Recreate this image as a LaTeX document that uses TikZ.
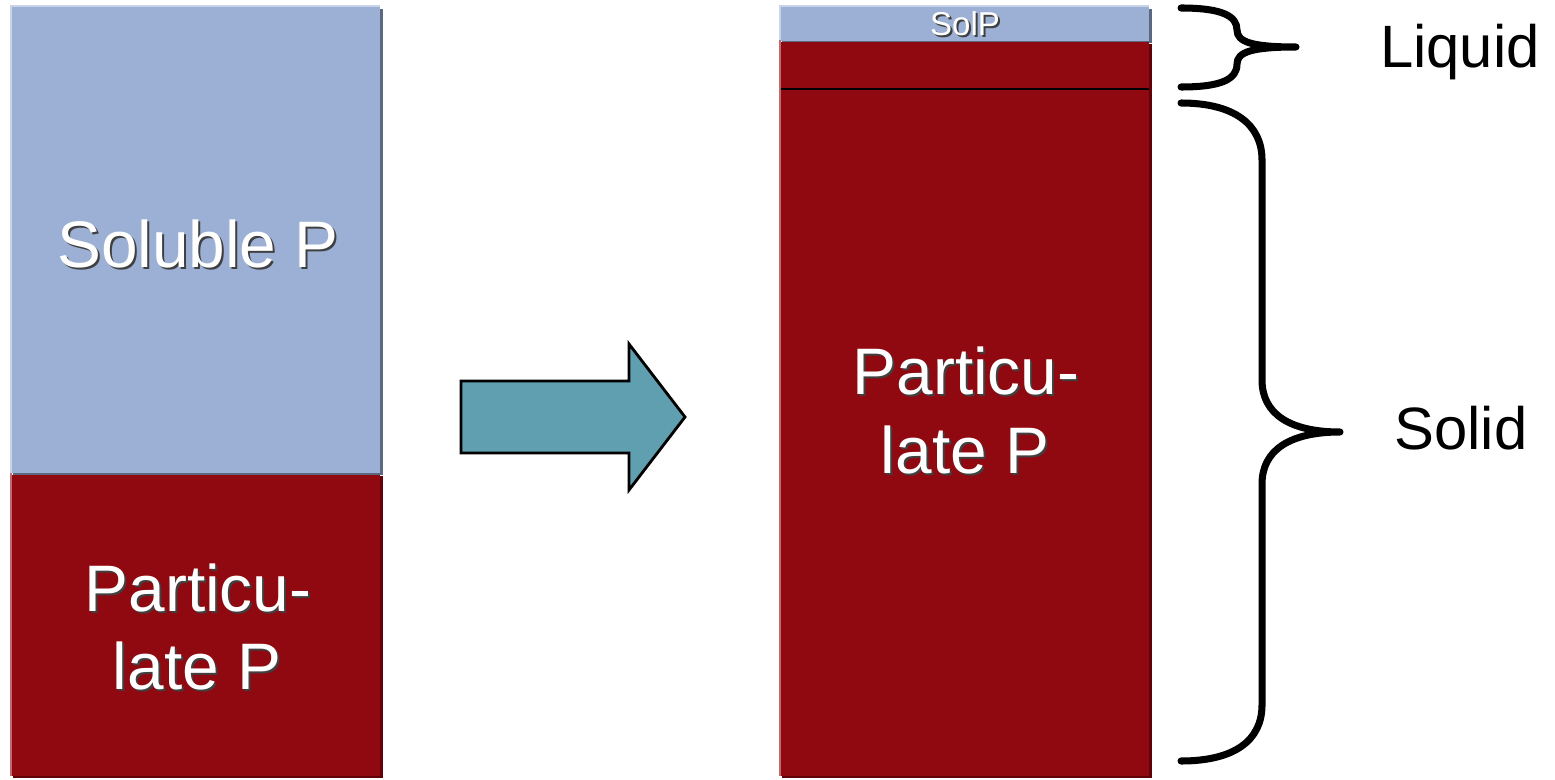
\documentclass[tikz,border=0pt]{standalone}
\usepackage{fontspec}
\setmainfont{Liberation Sans}
\definecolor{solblue}{RGB}{155,176,212}
\definecolor{solbluelt}{RGB}{200,212,232}
\definecolor{solbluedk}{RGB}{92,104,128}
\definecolor{partred}{RGB}{144,8,16}
\definecolor{partredlt}{RGB}{196,104,110}
\definecolor{partreddk}{RGB}{96,0,8}
\definecolor{arrteal}{RGB}{96,159,176}
\tikzset{
  big/.style={font=\fontsize{18.7}{22}\selectfont, inner sep=0pt, anchor=base},
  small/.style={font=\fontsize{9.4}{11}\selectfont, inner sep=0pt, anchor=base},
  wtxt/.style={text=white},
  stxt/.style={text=black!75},
  side/.style={font=\fontsize{17}{20}\selectfont, inner sep=0pt, anchor=base, text=black},
  brace/.style={draw=black, line width=2pt, line cap=round, line join=round},
}
\newcommand{\shtext}[4]{%
  \node[#1, stxt] (#2s) at ([shift={(2,2)}]#3) {#4};
  \node[#1, wtxt] (#2) at (#3) {#4};
}
\begin{document}
\begin{tikzpicture}[x=0.01cm, y=-0.01cm]
\useasboundingbox (0,0) rectangle (1555,779);
% ---- left column ----
\fill[solbluedk] (13,9) rectangle (383,475);
\fill[solblue] (10,6) rectangle (380,473);
\fill[solbluelt] (10,5) rectangle (380,7);
\fill[solbluelt] (10,5) rectangle (12,473);
\fill[partreddk] (13,476) rectangle (383,778);
\fill[partred] (10,475) rectangle (380,776);
\fill[partredlt] (10,473) rectangle (12,776);
% ---- right column ----
\fill[solbluedk] (782,9) rectangle (1152,43);
\fill[solblue] (779,6) rectangle (1149,41);
\fill[solbluelt] (779,5) rectangle (1149,7);
\fill[solbluelt] (779,5) rectangle (781,41);
\fill[partreddk] (782,44) rectangle (1152,778);
\fill[partred] (779,42) rectangle (1149,776);
\fill[partredlt] (779,40) rectangle (781,776);
\coordinate (lineL) at (781,89);
\coordinate (lineR) at (1149,89);
\draw[black, line width=0.45pt] (lineL) -- (lineR);
% ---- arrow ----
\coordinate (a1) at (461,381);
\coordinate (a2) at (629,381);
\coordinate (a3) at (629,344);
\coordinate (a4) at (685,417);
\coordinate (a5) at (629,490);
\coordinate (a6) at (629,453);
\coordinate (a7) at (461,453);
\draw[fill=arrteal, draw=black, line width=0.8pt, line join=miter] (a1) -- (a2) -- (a3) -- (a4) -- (a5) -- (a6) -- (a7) -- cycle;
% ---- texts ----
\shtext{big}{solL}{198,267}{Soluble P}
\shtext{big}{partL1}{198,611}{Particu-}
\shtext{big}{partL2}{197,689}{late P}
\shtext{big}{partR1}{966,394}{Particu-}
\shtext{big}{partR2}{965,473}{late P}
\shtext{small}{solP}{965,36}{SolP}
\node[side] (liquid) at (1460,68) {Liquid};
\node[side] (solid) at (1461,449) {Solid};
% ---- braces ----
\coordinate (lqT) at (1181,8);
\coordinate (lqM) at (1296,47);
\coordinate (lqB) at (1181,87);
\draw[brace] (lqT) .. controls (1222,8) and (1237,16) .. (1237,30)
  .. controls (1237,42) and (1252,47) .. (lqM)
  .. controls (1252,47) and (1237,52) .. (1237,64)
  .. controls (1237,79) and (1222,87) .. (lqB);
\coordinate (sdT) at (1181,103);
\coordinate (sdM) at (1340,432);
\coordinate (sdB) at (1181,761);
\draw[brace] (sdT) .. controls (1235,103) and (1262,125) .. (1262,160)
  -- (1262,380)
  .. controls (1262,414) and (1290,432) .. (sdM)
  .. controls (1290,432) and (1262,450) .. (1262,484)
  -- (1262,705)
  .. controls (1262,740) and (1235,761) .. (sdB);
\end{tikzpicture}
\end{document}
